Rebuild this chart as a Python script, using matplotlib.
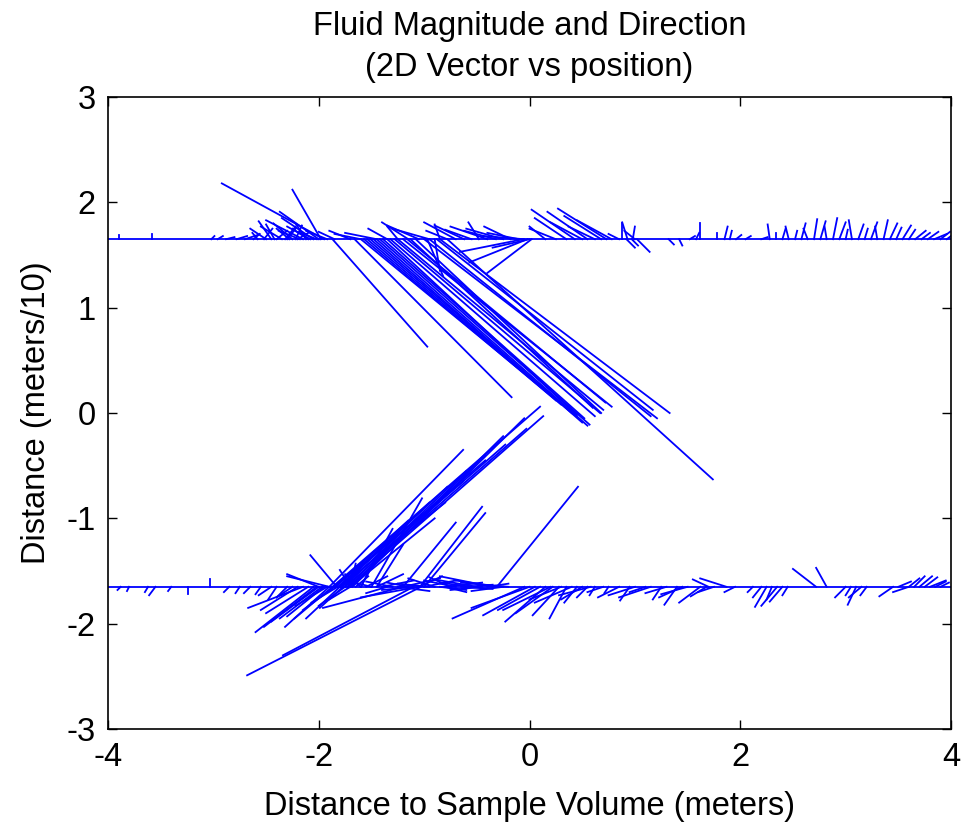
import matplotlib
matplotlib.use("Agg")
import matplotlib.pyplot as plt

plt.rcParams['font.family'] = ['Liberation Sans', 'DejaVu Sans']
plt.rcParams['axes.unicode_minus'] = False

# base positions of the two rows of sample points
top_y = 1.65
bot_y = -1.65
row_x = [-4.0, 4.0]

# vectors on the upper row: start x, dx, dy
top_x = [-3.90, -3.58, -3.02, -2.96, -2.88, -2.78, -2.70, -2.62,
         -2.50, -2.45, -2.40, -2.35, -2.30, -2.25, -2.20, -2.15, -2.10, -2.05,
         -2.00, -1.98, -1.95, -1.92,
         -2.58, -2.52, -2.42, -2.32, -2.28, -2.22, -2.18, -2.12, -2.08, -2.02,
         -1.70, -1.45, -1.25, -1.15, -0.95, -0.85, -0.70, -0.55, -0.48, -0.40,
         -0.25, -0.10, -0.05,
         -1.85, -1.60, -1.35, -1.05, -0.78, -0.62, -0.32, -0.18,
         0.43, 0.55, 0.73, 0.78, 0.15, 0.25,
         0.35, 0.50, 0.62, 0.68, 0.85, 0.97,
         0.88, 0.93, 0.98, 1.00, 0.92, 1.02, 1.32, 1.42, 1.52, 1.58, 1.62,
         1.78, 1.85, 1.90, 1.96, 2.05, 2.20,
         2.28, 2.34, 2.40, 2.46, 2.52, 2.58, 2.64, 2.70, 2.76, 2.82, 2.88, 2.94,
         3.00, 3.06, 3.12, 3.18, 3.24, 3.30, 3.36, 3.42, 3.48, 3.54, 3.60, 3.66,
         3.72, 3.78, 3.84, 3.90, 3.96,
         -1.87, -1.66, -1.60, -1.54, -1.48, -1.42, -1.35, -1.28, -1.20, -1.13,
         -1.57, -1.51, -1.45, -1.39, -1.32, -1.25, -1.16, -1.08,
         -1.00, -0.85, -0.78, -0.95, -0.88, -0.90, -0.97,
         0.02, -0.02, -0.06, 0.00]
top_u = [0.00, 0.00, 0.03, 0.05, 0.08, 0.10, 0.12, 0.06,
         -0.15, -0.12, 0.10, -0.20, 0.08, -0.18, 0.10, -0.35, -0.15, -0.30,
         -0.37, -0.27, -0.97, -0.20,
         -0.05, 0.08, -0.08, 0.10, -0.12, 0.06, -0.20, -0.10, -0.22, -0.15,
         -0.20, -0.30, -0.10, -0.25, -0.35, -0.05, -0.30, -0.25, -0.10, -0.35,
         -0.35, -0.30, -0.40,
         -0.15, -0.25, -0.18, -0.30, -0.20, -0.28, -0.30, -0.25,
         -0.41, -0.38, -0.46, -0.33, -0.15, -0.25,
         -0.30, -0.30, -0.25, -0.35, -0.10, 0.06,
         0.00, -0.05, 0.02, -0.10, 0.08, 0.12, 0.05, 0.03, 0.05, 0.03, 0.00,
         0.00, 0.03, 0.02, 0.05, 0.05, 0.06,
         -0.02, 0.00, 0.03, -0.03, 0.02, 0.04, -0.04, 0.03, 0.05, -0.02, 0.04, 0.06,
         0.02, -0.03, 0.05, 0.03, 0.06, -0.02, 0.04, 0.07, 0.05, 0.08, 0.06, 0.10,
         0.08, 0.10, 0.12, 0.09, 0.08,
         0.90, 1.49, 1.80, 1.84, 1.98, 1.99, 1.80, 1.95, 1.98, 1.73,
         1.82, 1.91, 2.00, 1.91, 1.94, 1.95, 1.88, 1.76,
         2.21, 2.18, 2.52, 2.10, 2.05, 0.05, 0.15,
         -0.42, -0.55, -0.60, -0.35]
top_v = [0.04, 0.05, 0.03, 0.03, 0.02, 0.03, 0.04, 0.05,
         0.10, 0.17, 0.08, 0.12, 0.10, 0.15, 0.06, 0.18, 0.10, 0.20,
         0.26, 0.47, 0.53, 0.08,
         0.06, 0.10, 0.14, 0.12, 0.10, 0.13, 0.08, 0.15, 0.12, 0.06,
         0.08, 0.06, 0.12, 0.16, 0.10, 0.14, 0.16, 0.09, 0.16, 0.12,
         0.10, 0.06, 0.03,
         0.07, 0.05, 0.10, 0.13, 0.08, 0.13, 0.08, 0.12,
         0.28, 0.26, 0.29, 0.18, 0.12, 0.10,
         0.20, 0.16, 0.12, 0.22, 0.05, -0.06,
         0.15, 0.16, 0.12, 0.08, -0.08, -0.12, -0.05, -0.06, 0.03, 0.06, 0.15,
         0.06, 0.12, 0.08, 0.04, 0.03, 0.02,
         0.14, 0.06, 0.10, 0.12, 0.08, 0.15, 0.10, 0.19, 0.17, 0.12, 0.20, 0.16,
         0.09, 0.18, 0.14, 0.10, 0.16, 0.12, 0.18, 0.15, 0.11, 0.13, 0.09, 0.08,
         0.06, 0.07, 0.05, 0.07, 0.06,
         -1.02, -1.50, -1.48, -1.57, -1.74, -1.76, -1.67, -1.65, -1.59, -1.60,
         -1.53, -1.65, -1.77, -1.70, -1.68, -1.62, -1.55, -1.65,
         -1.70, -1.65, -2.28, -1.68, -1.62, -0.30, -0.35,
         -0.32, -0.22, -0.12, -0.08]

# vectors on the lower row: start x, dx, dy
bot_x = [-2.05, -2.15, -2.10, -2.00, -1.95, -1.90, -1.85, -1.80, -1.75, -1.70,
         -2.02, -1.97, -1.92, -1.87, -1.82, -1.77, -2.20, -2.25,
         -2.30, -2.40, -2.45, -2.55, -2.65, -2.75, -2.85, -3.03, -3.24, -3.40,
         -3.55, -3.62, -3.80, -3.88,
         -1.03, -1.10, -1.20, -1.05,
         -0.05, 0.05, 0.15, 0.20, 0.28, 0.35, 0.40, 0.45, 0.55, 0.62, 0.75,
         0.95, 1.10, 1.25, 1.40, 1.50, 1.62, 1.75, 1.95, 2.25, 2.35, 2.30,
         2.45, 2.12, 3.10, 3.15, 3.05, 3.45, 3.60,
         0.00, 0.10, 0.22, 0.30, 0.50, 0.58, 0.70, 0.85, 1.00, 1.15, 1.30,
         1.45, 1.68, 2.20, 2.40, 3.00, 3.20,
         -1.90, -1.87, -1.85, -1.82, -1.78, -1.75, -1.72, -1.80, -1.70,
         -1.86, -1.84, -1.81, -1.79, -1.76, -1.73, -1.70, -1.68,
         -0.31, -1.04, -1.00, -1.50, -1.20, -1.45, -1.60,
         -1.83, -1.90, -2.00,
         -1.80, -1.75, -1.70, -1.65, -1.60,
         -1.40, -1.30, -1.20, -1.10, -1.00, -0.90, -0.80, -0.70, -0.60, -0.50,
         -0.35, -0.20, -0.80, -1.25, -1.35,
         -1.55, -1.50, -1.45, -1.15, -1.05, -0.95, -0.85, -0.75, -0.65, -0.55,
         -0.45, -0.40, -0.30, -0.25, -1.60, -1.70,
         1.87, 1.70, 2.72, 2.82, 3.50, 3.60, 3.65, 3.70, 3.75, 3.80, 3.85, 3.90]
bot_u = [-0.55, -0.52, -0.40, -0.45, -0.35, -0.42, -0.30, -0.32, -0.25, -0.20,
         -0.50, -0.40, -0.30, -0.36, -0.25, -0.22, -0.35, -0.15,
         -0.10, -0.08, -0.12, -0.05, -0.06, -0.04, -0.05, 0.00, 0.00, -0.03,
         -0.06, -0.03, -0.02, -0.03,
         -1.65, -1.24, -0.76, -0.55,
         -0.68, -0.49, -0.38, -0.45, -0.25, -0.16, -0.35, -0.12, -0.10, -0.05, -0.04,
         -0.09, -0.15, -0.08, -0.12, -0.25, -0.20, -0.15, -0.10, -0.11, -0.15, -0.05,
         -0.05, -0.05, -0.08, -0.12, -0.05, -0.13, -0.15,
         -0.55, -0.40, -0.35, -0.30, -0.20, -0.30, -0.15, -0.20, -0.25, -0.30, -0.20,
         -0.22, -0.15, -0.08, -0.12, -0.10, -0.06,
         1.27, 1.97, 1.22, 1.40, 1.55, 1.72, 1.85, 1.00, 0.80,
         0.51, 0.69, 0.86, 1.01, 1.16, 1.31, 1.45, 1.63,
         0.77, 0.59, 0.58, 0.48, 0.50, 0.25, 0.30,
         -0.25, -0.40, -0.30,
         0.15, 0.10, -0.10, 0.12, -0.15,
         0.30, -0.25, 0.35, -0.30, 0.30, -0.25, 0.35, -0.30, 0.25, -0.40,
         -0.50, -0.45, 0.20, 0.30, -0.20,
         0.20, -0.20, 0.25, -0.20, 0.22, -0.30, 0.25, -0.20, 0.30, -0.30,
         -0.30, 0.20, -0.40, -0.30, 0.10, 0.05,
         -0.25, -0.15, -0.22, -0.10, 0.12, 0.10, 0.10, 0.12, 0.12, 0.15, 0.10, 0.08]
bot_v = [-0.43, -0.20, -0.25, -0.33, -0.28, -0.38, -0.22, -0.30, -0.18, -0.12,
         -0.38, -0.30, -0.18, -0.30, -0.15, -0.20, -0.22, -0.10,
         -0.10, -0.12, -0.08, -0.07, -0.06, -0.06, -0.05, 0.07, -0.07, -0.04,
         -0.08, -0.05, -0.04, -0.03,
         -0.84, -0.65, -0.20, -0.10,
         -0.30, -0.27, -0.33, -0.22, -0.27, -0.30, -0.15, -0.15, -0.10, -0.08, -0.06,
         -0.13, -0.05, -0.12, -0.17, -0.07, -0.15, -0.05, -0.05, -0.19, -0.18, -0.12,
         -0.08, -0.05, -0.17, -0.10, -0.08, -0.09, -0.05,
         -0.20, -0.22, -0.25, -0.12, -0.12, -0.08, -0.05, -0.10, -0.08, -0.10, -0.06,
         -0.10, -0.09, -0.10, -0.14, -0.10, -0.08,
         1.30, 1.71, 1.00, 1.20, 1.35, 1.50, 1.62, 0.80, 0.65,
         0.44, 0.63, 0.80, 0.95, 1.10, 1.25, 1.43, 1.60,
         0.95, 0.76, 0.70, 0.84, 0.61, 0.40, 0.55,
         0.30, 0.10, 0.12,
         0.15, 0.18, 0.16, 0.10, 0.12,
         0.06, 0.05, 0.08, -0.03, 0.06, 0.08, 0.04, 0.06, 0.02, 0.07,
         0.10, 0.04, -0.05, -0.04, -0.06,
         0.10, 0.05, 0.12, 0.04, 0.10, 0.03, -0.03, 0.09, -0.02, 0.04,
         -0.03, 0.03, 0.06, -0.04, 0.20, 0.22,
         0.08, 0.07, 0.17, 0.18, 0.05, 0.08, 0.10, 0.10, 0.09, 0.06, 0.05, 0.04]

fig = plt.figure(figsize=(9.61, 8.22), dpi=100)
ax = fig.add_axes([0.1124, 0.1131, 0.8772, 0.7689])

blue = '#0000ff'
lw = 1.3
ax.plot(row_x, [top_y, top_y], color=blue, lw=lw)
ax.plot(row_x, [bot_y, bot_y], color=blue, lw=lw)
for x0, u, v in zip(top_x, top_u, top_v):
    ax.plot([x0, x0 + u], [top_y, top_y + v], color=blue, lw=lw)
for x0, u, v in zip(bot_x, bot_u, bot_v):
    ax.plot([x0, x0 + u], [bot_y, bot_y + v], color=blue, lw=lw)

ax.set_xlim(-4, 4)
ax.set_ylim(-3, 3)
ax.set_xticks([-4, -2, 0, 2, 4])
ax.set_yticks([-3, -2, -1, 0, 1, 2, 3])
ax.tick_params(direction='in', length=6.5, width=1, top=True, right=True,
               labelsize=23.5, pad=9)
for s in ax.spines.values():
    s.set_linewidth(1.2)

ax.set_title("Fluid Magnitude and Direction\n(2D Vector vs position)",
             fontsize=23.5, pad=15, linespacing=1.42)
ax.set_xlabel("Distance to Sample Volume (meters)", fontsize=23.5, labelpad=13)
ax.set_ylabel("Distance (meters/10)", fontsize=23.5, labelpad=10)

fig.savefig("out.png", dpi=100)
